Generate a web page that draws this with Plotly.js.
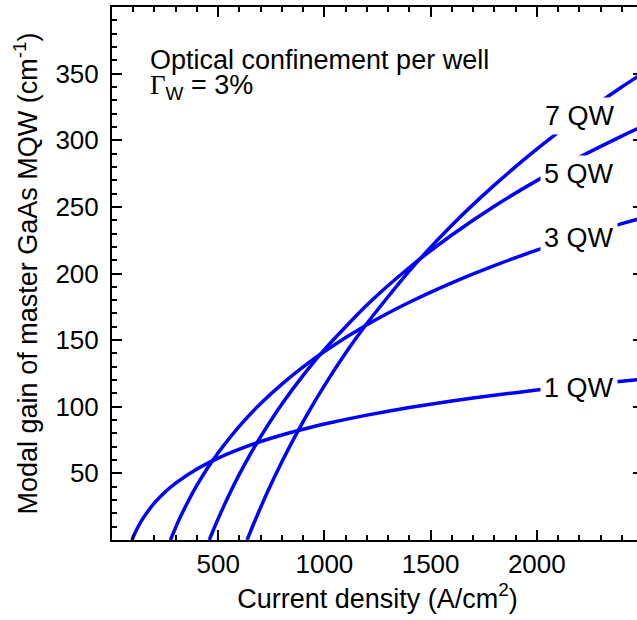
<!DOCTYPE html>
<html>
<head>
<meta charset="utf-8">
<script src="https://cdn.plot.ly/plotly-3.0.1.min.js"></script>
<style>
  html, body { margin: 0; padding: 0; overflow: hidden; background: #fff; }
  #chart { width: 660px; height: 620px; }
</style>
</head>
<body>
<div id="chart"></div>
<script>
// Modal gain vs. current density for GaAs multiple-quantum-well stacks
const seriesNames = ['1 QW', '3 QW', '5 QW', '7 QW'];

const j1 = [94, 100, 110, 125, 145, 170, 200, 250, 300, 400, 500, 600, 700, 800, 900, 1000, 1200, 1400, 1600, 1800, 2000, 2200, 2400, 2500];
const g1 = [0, 2.3, 5.8, 10.5, 16.0, 21.8, 27.8, 36.0, 42.7, 53.3, 61.5, 68.2, 73.9, 78.8, 83.1, 87.0, 93.7, 99.4, 104.3, 108.6, 112.5, 116.0, 119.2, 120.7];

const j3 = [275, 285, 300, 325, 360, 400, 450, 500, 600, 700, 800, 900, 1000, 1200, 1400, 1600, 1800, 2000, 2200, 2400, 2500];
const g3 = [0, 3.9, 9.5, 18.3, 29.5, 41.1, 54.0, 65.5, 85.5, 102.4, 117.0, 129.9, 141.5, 161.5, 178.4, 193.0, 205.9, 217.5, 227.9, 237.4, 241.9];

const j5 = [458, 470, 490, 520, 560, 600, 650, 700, 800, 900, 1000, 1200, 1400, 1600, 1800, 2000, 2200, 2400, 2500];
const g5 = [0, 4.7, 12.4, 23.2, 36.8, 49.4, 64.1, 77.6, 102.1, 123.6, 142.9, 176.3, 204.5, 228.9, 250.5, 269.7, 287.2, 303.1, 310.6];

const j7 = [636, 650, 670, 700, 740, 800, 860, 930, 1000, 1100, 1200, 1400, 1600, 1800, 2000, 2200, 2400, 2500];
const g7 = [0, 5.6, 13.3, 24.5, 38.8, 58.7, 77.2, 97.3, 115.9, 140.3, 162.5, 202.0, 236.2, 266.3, 293.3, 317.7, 340.0, 350.4];

// where each curve's name is written (data coordinates of the label centre)
const labelX = [2200, 2200, 2200, 2205];
const labelY = [114.2, 226.6, 274.5, 318.0];

const xTicks = [500, 1000, 1500, 2000];
const yTicks = [50, 100, 150, 200, 250, 300, 350];
const X_RANGE = [0, 2500];
const Y_RANGE = [0, 400];

const FONT = 'Liberation Sans, Arial, sans-serif';
const BLUE = '#0000ff';
const LW = 2;

// minor tick positions every 100 A/cm2 and every 10 cm-1
const xMinor = [];
for (let v = 0; v <= X_RANGE[1]; v += 100) xMinor.push(v);
const yMinor = [];
for (let v = 0; v <= Y_RANGE[1]; v += 10) yMinor.push(v);

const xs = [j1, j3, j5, j7];
const ys = [g1, g3, g5, g7];

const traces = xs.map((x, i) => ({
  x: x, y: ys[i], name: seriesNames[i], type: 'scatter', mode: 'lines',
  line: { color: BLUE, width: 3.5, shape: 'spline', smoothing: 0.6 }, hoverinfo: 'skip'
}));

// placeholder traces so the frame axes (minor ticks, top and right sides) get drawn
[['x2', 'y'], ['x3', 'y'], ['x4', 'y'], ['x', 'y2'], ['x', 'y3'], ['x', 'y4']].forEach(([xa, ya]) => {
  traces.push({ x: [null], y: [null], xaxis: xa, yaxis: ya, type: 'scatter', mode: 'lines', hoverinfo: 'skip', showlegend: false });
});

const curveLabels = seriesNames.map((t, i) => ({
  x: labelX[i], y: labelY[i], xref: 'x', yref: 'y', text: t, showarrow: false,
  xanchor: 'center', yanchor: 'middle', bgcolor: '#ffffff', borderpad: 3,
  font: { family: FONT, size: 27, color: '#000' }
}));

function frameAxis(extra) {
  return Object.assign({
    showgrid: false, zeroline: false, showline: false,
    ticks: 'inside', tickcolor: '#000', tickwidth: LW,
    showticklabels: false, fixedrange: true, tickmode: 'array'
  }, extra);
}

const layout = {
  width: 660, height: 620,
  margin: { l: 112, r: 17, t: 7, b: 80 },
  paper_bgcolor: '#fff', plot_bgcolor: '#fff', showlegend: false,
  font: { family: FONT, color: '#000' },
  xaxis: {
    range: X_RANGE, showgrid: false, zeroline: false, showline: true, linecolor: '#000', linewidth: LW,
    ticks: 'inside', ticklen: 10, tickwidth: LW, tickcolor: '#000',
    tickmode: 'array', tickvals: xTicks, ticktext: xTicks.map(String),
    tickfont: { family: FONT, size: 26, color: '#000' }, ticklabelstandoff: 0, fixedrange: true,
    title: { text: 'Current density (A/cm<sup>2</sup>)', font: { family: FONT, size: 27, color: '#000' }, standoff: 8 }
  },
  yaxis: {
    range: Y_RANGE, showgrid: false, zeroline: false, showline: true, linecolor: '#000', linewidth: LW,
    ticks: 'inside', ticklen: 10, tickwidth: LW, tickcolor: '#000',
    tickmode: 'array', tickvals: yTicks, ticktext: yTicks.map(String),
    tickfont: { family: FONT, size: 26, color: '#000' }, ticklabelstandoff: 6, fixedrange: true,
    title: { text: 'Modal gain of master GaAs MQW (cm<sup>-1</sup>)', font: { family: FONT, size: 27, color: '#000' }, standoff: 10 }
  },
  xaxis2: frameAxis({ overlaying: 'x', anchor: 'y', side: 'bottom', range: X_RANGE, tickvals: xMinor, ticklen: 5 }),
  xaxis3: frameAxis({ overlaying: 'x', anchor: 'y', side: 'top', range: X_RANGE, tickvals: xTicks, ticklen: 10, showline: true, linecolor: '#000', linewidth: LW }),
  xaxis4: frameAxis({ overlaying: 'x', anchor: 'y', side: 'top', range: X_RANGE, tickvals: xMinor, ticklen: 5 }),
  yaxis2: frameAxis({ overlaying: 'y', anchor: 'x', side: 'left', range: Y_RANGE, tickvals: yMinor, ticklen: 5 }),
  yaxis3: frameAxis({ overlaying: 'y', anchor: 'x', side: 'right', range: Y_RANGE, tickvals: yTicks, ticklen: 10, showline: true, linecolor: '#000', linewidth: LW }),
  yaxis4: frameAxis({ overlaying: 'y', anchor: 'x', side: 'right', range: Y_RANGE, tickvals: yMinor, ticklen: 5 }),
  annotations: curveLabels.concat([
    { xref: 'paper', yref: 'paper', x: 0.0678, y: 0.9006, xanchor: 'left', yanchor: 'middle', showarrow: false,
      text: 'Optical confinement per well', font: { family: FONT, size: 27, color: '#000' } },
    { xref: 'paper', yref: 'paper', x: 0.0678, y: 0.85, xanchor: 'left', yanchor: 'middle', showarrow: false,
      text: '<span style="font-family:Liberation Serif, Times New Roman, serif">Γ</span><sub>W</sub> = 3%',
      font: { family: FONT, size: 27, color: '#000' } }
  ])
};

Plotly.newPlot('chart', traces, layout, { staticPlot: true, displayModeBar: false });
</script>
</body>
</html>
